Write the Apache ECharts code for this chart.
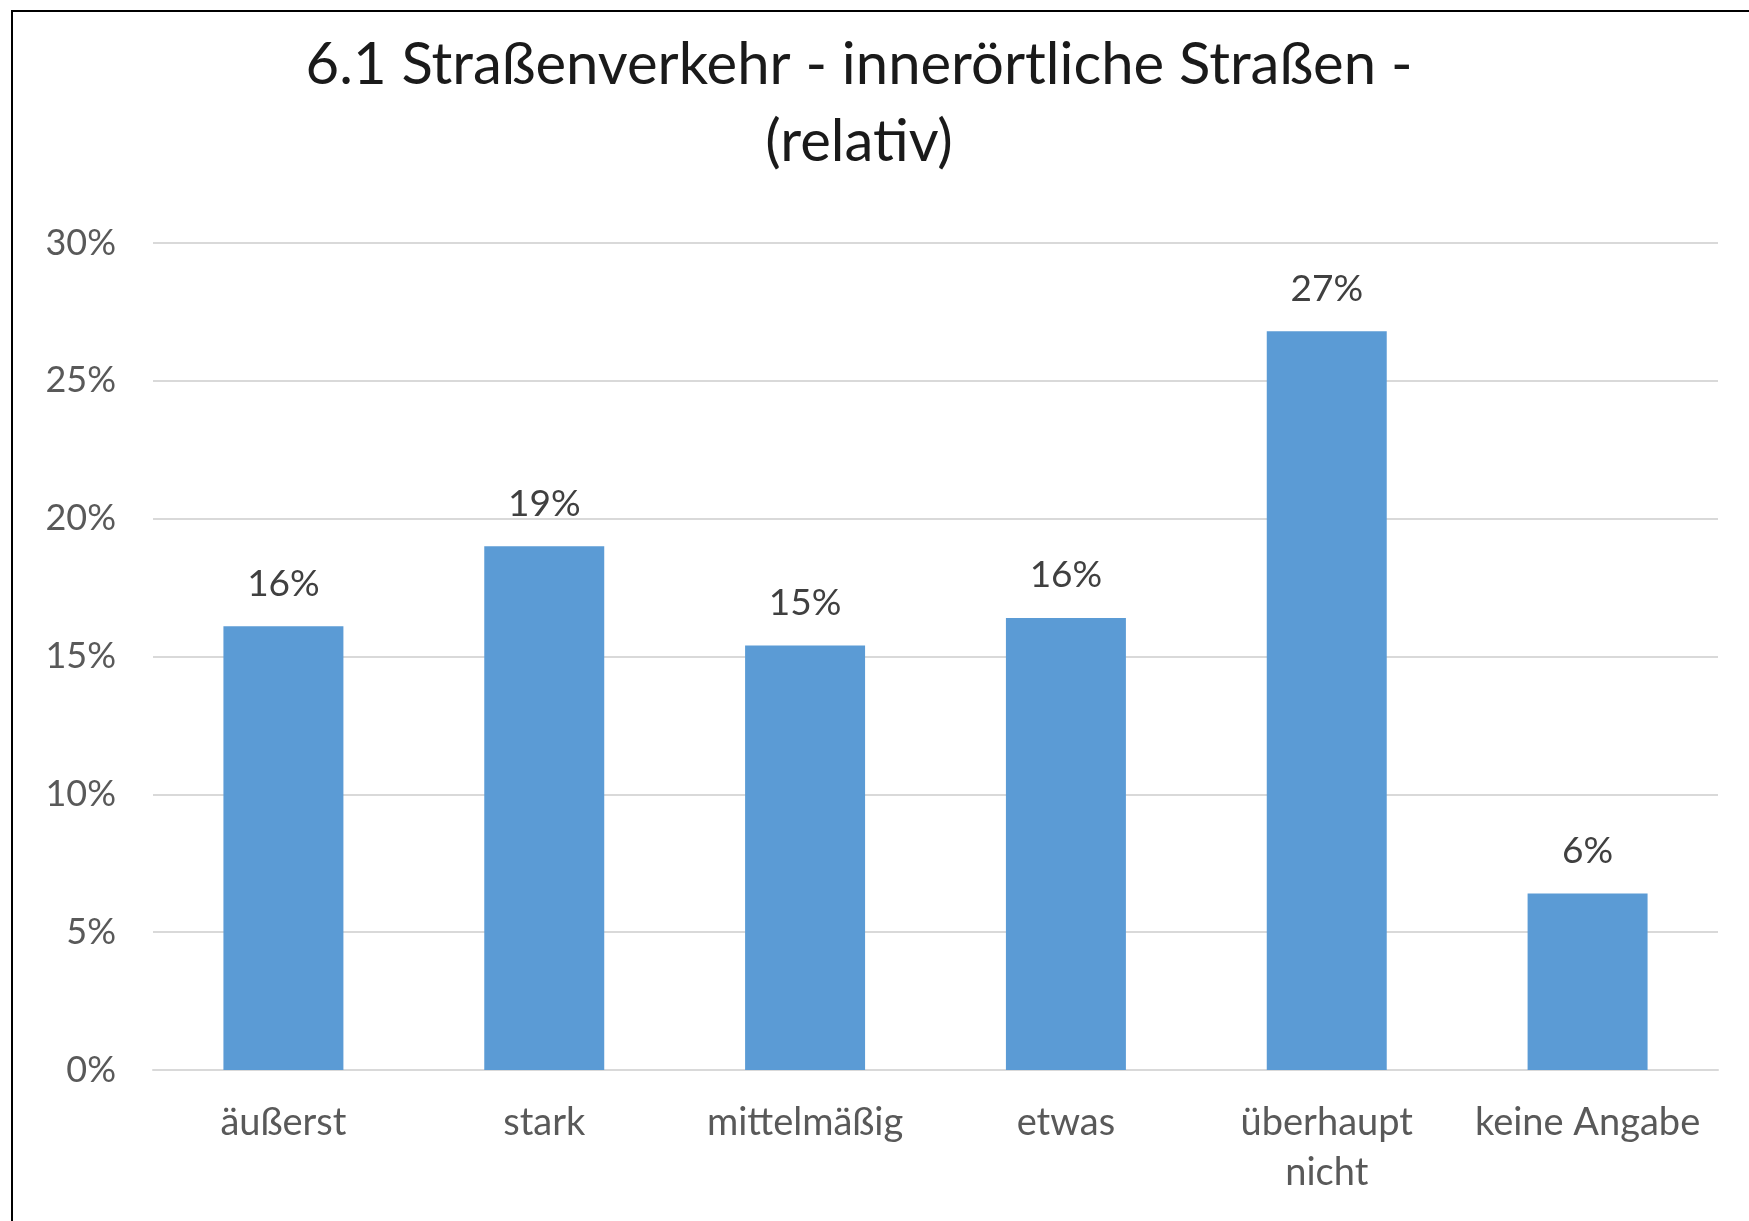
<!DOCTYPE html>
<html>
<head>
<meta charset="utf-8">
<script src="https://cdn.jsdelivr.net/npm/echarts@6/dist/echarts.min.js"></script>
<style>
html,body{margin:0;padding:0;background:#fff;}
#frame{position:absolute;left:11px;top:10px;width:1740px;height:1215px;border-left:2px solid #000;border-top:2px solid #000;}
#chart{position:absolute;left:0;top:0;width:1749px;height:1221px;}
</style>
</head>
<body>
<div id="frame"></div>
<div id="chart"></div>
<script>
const titleLines = ['6.1 Straßenverkehr - innerörtliche Straßen -', '(relativ)'];
const categories = ['äußerst', 'stark', 'mittelmäßig', 'etwas', 'überhaupt\nnicht', 'keine Angabe'];
const values = [16.1, 19.0, 15.4, 16.4, 26.8, 6.4];
const yTicks = { min: 0, max: 30, interval: 5 };

const chart = echarts.init(document.getElementById('chart'), null, { renderer: 'canvas' });
const font = 'Lato, "Open Sans", sans-serif';
chart.setOption({
  backgroundColor: 'transparent',
  animation: false,
  title: {
    text: titleLines.join('\n'),
    left: 854,
    top: 22,
    textAlign: 'center',
    textStyle: { fontFamily: font, fontSize: 58, fontWeight: 'normal', color: '#1a1a1a', lineHeight: 77 }
  },
  grid: { left: 153, right: 31, top: 243, bottom: 151, containLabel: false },
  xAxis: {
    type: 'category',
    data: categories,
    axisTick: { show: false },
    axisLine: { lineStyle: { color: '#D9D9D9', width: 2 } },
    axisLabel: { fontFamily: font, fontSize: 38, color: '#595959', margin: 28, lineHeight: 50, interval: 0 }
  },
  yAxis: {
    type: 'value',
    min: yTicks.min, max: yTicks.max, interval: yTicks.interval,
    axisLine: { show: false },
    axisTick: { show: false },
    splitLine: { lineStyle: { color: '#D9D9D9', width: 2 } },
    axisLabel: { fontFamily: font, fontSize: 36, color: '#595959', margin: 37, formatter: '{value}%' }
  },
  series: [{
    type: 'bar',
    data: values,
    barWidth: '46%',
    itemStyle: { color: '#5B9BD5' },
    label: {
      show: true, position: 'top', distance: 24,
      fontFamily: font, fontSize: 37, color: '#404040',
      formatter: p => Math.round(p.value) + '%'
    }
  }]
});
</script>
</body>
</html>
